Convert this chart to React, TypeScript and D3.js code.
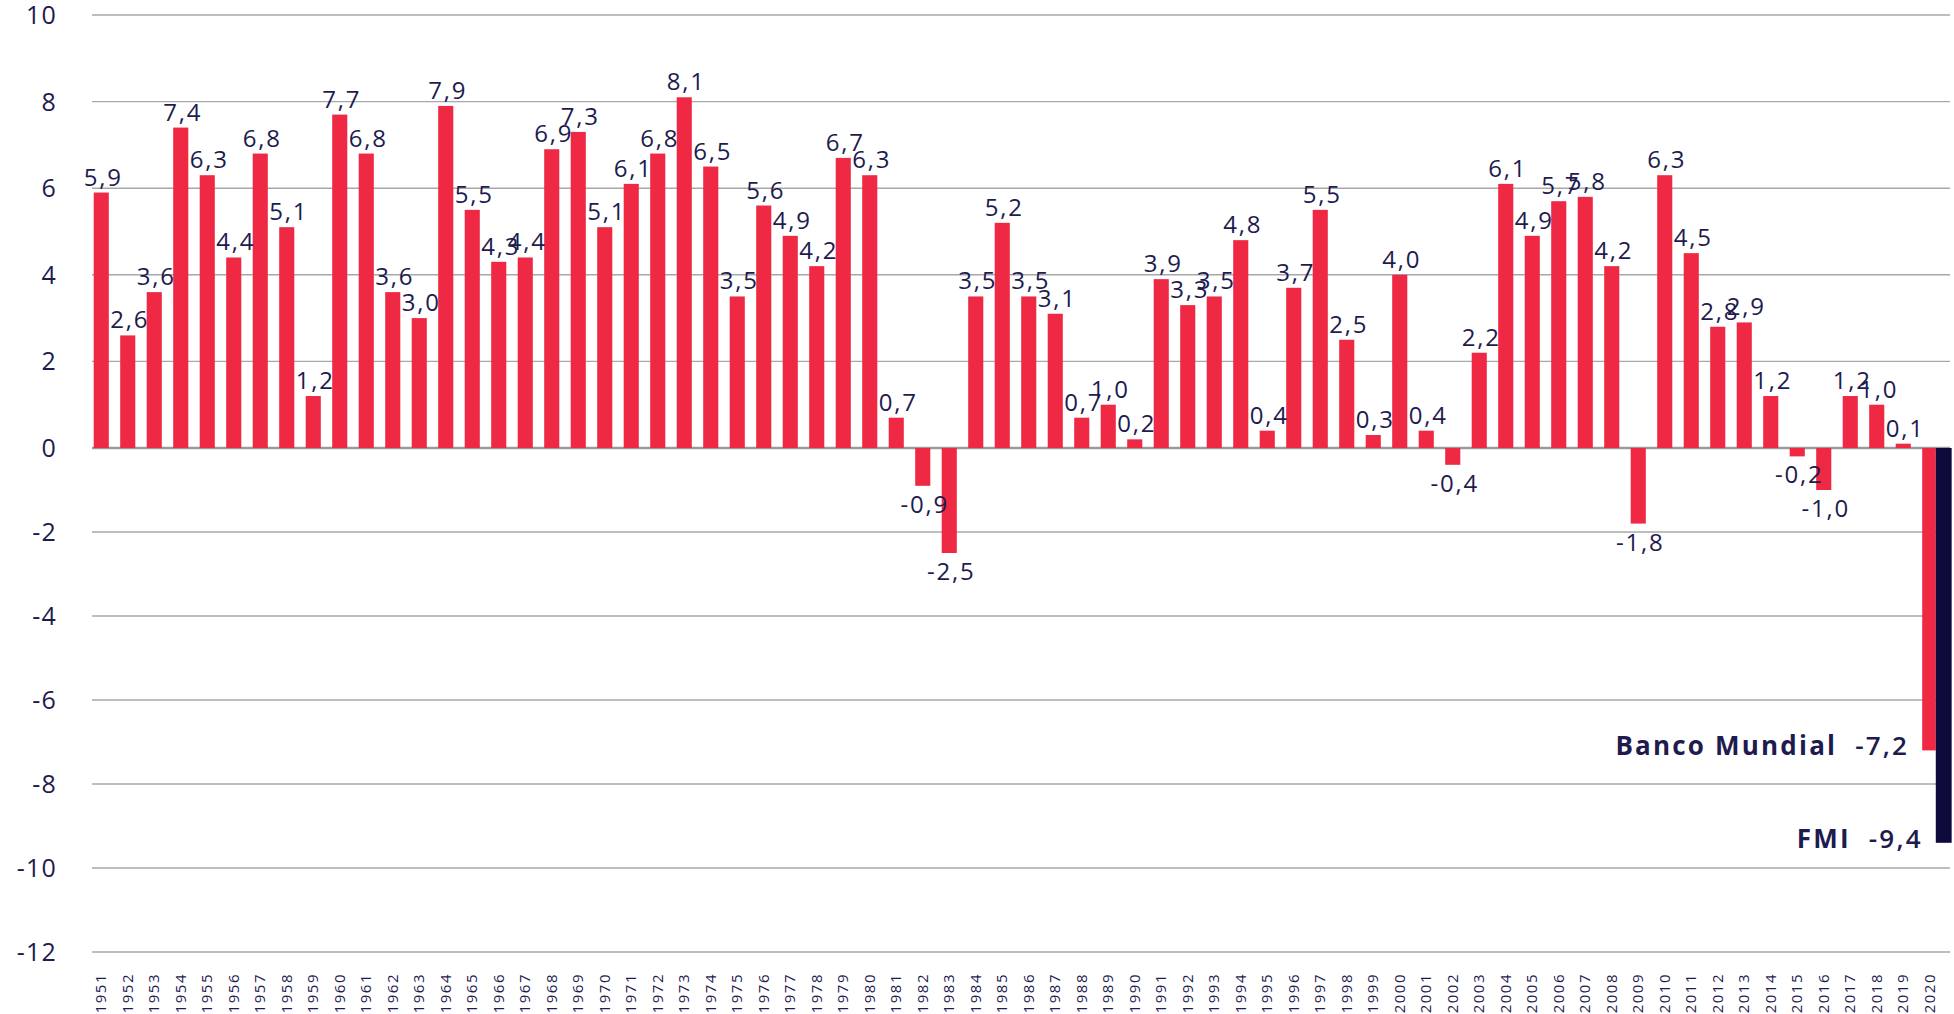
import * as React from "react";
import { scaleBand, scaleLinear, range } from "d3";

// crecimiento anual del PIB (%), 1951-2019
const years: number[] = range(1951, 2021);
const growth: number[] = [
  5.9, 2.6, 3.6, 7.4, 6.3, 4.4, 6.8, 5.1, 1.2, 7.7,
  6.8, 3.6, 3.0, 7.9, 5.5, 4.3, 4.4, 6.9, 7.3, 5.1,
  6.1, 6.8, 8.1, 6.5, 3.5, 5.6, 4.9, 4.2, 6.7, 6.3,
  0.7, -0.9, -2.5, 3.5, 5.2, 3.5, 3.1, 0.7, 1.0, 0.2,
  3.9, 3.3, 3.5, 4.8, 0.4, 3.7, 5.5, 2.5, 0.3, 4.0,
  0.4, -0.4, 2.2, 6.1, 4.9, 5.7, 5.8, 4.2, -1.8, 6.3,
  4.5, 2.8, 2.9, 1.2, -0.2, -1.0, 1.2, 1.0, 0.1,
];
// proyecciones 2020
const forecastSources: string[] = ["Banco Mundial", "FMI"];
const forecastValues: number[] = [-7.2, -9.4];
const yTicks: number[] = [-12, -10, -8, -6, -4, -2, 0, 2, 4, 6, 8, 10];

const RED = "#EF2944";
const NAVY = "#0E0A3C";
const INK = "#1E1B4F";
const GRID = "#A8A8A8";
const FONT = "'Open Sans', 'DejaVu Sans', sans-serif";

const fmt = (v: number) => v.toFixed(1).replace(".", ",");

const App: React.FC = () => {
  const width = 1954, height = 1014;
  const left = 92, right = 1950;

  const x = scaleBand<number>()
    .domain(years)
    .range([88, 1943])
    .paddingInner(0.43)
    .paddingOuter(0.215);
  const y = scaleLinear().domain([-12, 0, 10]).range([952, 448, 15]);
  const bw = x.bandwidth();

  const x2020 = x(2020) as number;
  const forecastX = [x2020, x2020 + bw * 0.9];
  const forecastW = [bw * 0.9, bw * 1.05];

  return (
    <svg width={width} height={height}
         style={{ position: "absolute", left: 0, top: 0, background: "#fff" }}
         fontFamily={FONT}>
      {/* grid */}
      {yTicks.map(t => (
        <g key={t}>
          <line x1={left} x2={right} y1={y(t)} y2={y(t)}
                stroke={t === 0 ? "#9a9a9a" : GRID}
                strokeWidth={t === 0 ? 2.5 : 1.4} />
          <text x={57} y={y(t) + 9} textAnchor="end" fontSize={25}
                letterSpacing={1.2} fill={INK}>{t}</text>
        </g>
      ))}

      {/* barras */}
      {growth.map((v, i) => {
        const yr = years[i];
        const bx = x(yr) as number;
        return (
          <rect key={yr} x={bx} width={bw}
                y={Math.min(y(v), y(0))} height={Math.abs(y(v) - y(0))}
                fill={RED} />
        );
      })}
      {forecastValues.map((v, i) => (
        <rect key={forecastSources[i]} x={forecastX[i]} width={forecastW[i]}
              y={y(0)} height={y(v) - y(0)} fill={i === 0 ? RED : NAVY} />
      ))}

      {/* etiquetas de valor */}
      {growth.map((v, i) => {
        const yr = years[i];
        const cx = (x(yr) as number) + bw / 2;
        return (
          <text key={yr} x={cx + 2} y={v >= 0 ? y(v) - 7 : y(v) + 27}
                textAnchor="middle" fontSize={24} letterSpacing={1.8}
                fill={INK}>{fmt(v)}</text>
        );
      })}
      {forecastValues.map((v, i) => (
        <text key={forecastSources[i]} x={forecastX[i] - 13} y={y(v) + 5}
              textAnchor="end" fontSize={26} fill={INK} letterSpacing={2.2}>
          <tspan fontWeight={700}>{forecastSources[i]}</tspan>
          <tspan dx={18} fontWeight={600}>{fmt(v)}</tspan>
        </text>
      ))}

      {/* años */}
      {years.map(yr => {
        const cx = (x(yr) as number) + bw / 2;
        return (
          <text key={yr} transform={`translate(${cx + 5},973) rotate(-90)`}
                textAnchor="end" fontSize={15} letterSpacing={1.5}
                fill={INK}>{yr}</text>
        );
      })}
    </svg>
  );
};

export default App;
